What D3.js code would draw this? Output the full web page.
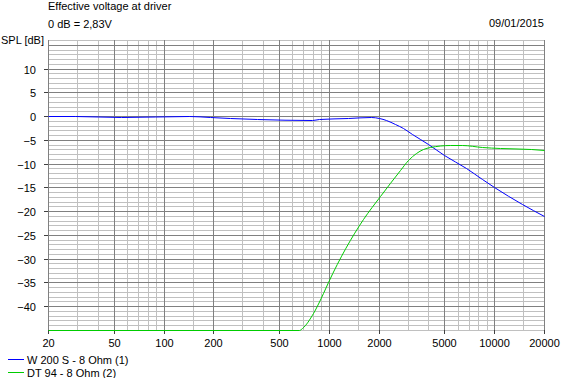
<!DOCTYPE html>
<html>
<head>
<meta charset="utf-8">
<script src="https://cdn.jsdelivr.net/npm/d3@7"></script>
<style>
  body { margin: 0; background: #fff; }
  svg { display: block; font-family: "Liberation Sans", Arial, sans-serif; font-size: 11px; }
</style>
</head>
<body>
<svg id="chart" width="586" height="378"></svg>
<script>
// frequency response, values
const wooferFreq = [20, 29, 55, 143, 190, 251, 365, 785, 877, 1296, 1810, 2000, 2200, 2500, 2800, 3200, 4000, 5000, 6768, 8492, 10000, 14820, 20000];
const wooferDb   = [0, 0, -0.1, 0, -0.1, -0.45, -0.7, -0.9, -0.6, -0.4, -0.15, -0.35, -0.75, -1.7, -2.6, -3.8, -5.8, -8.2, -11.0, -13.3, -14.9, -18.4, -21.1];

const tweeterFreq = [20, 664, 692, 796, 919, 994, 1603, 2024, 2674, 3000, 3374, 3700, 4060, 5365, 6428, 8492, 10766, 16738, 20000];
const tweeterDb   = [-45, -45, -44.6, -41.4, -37.3, -34.8, -21.6, -16.9, -11.3, -9.3, -7.8, -7.0, -6.5, -6.0, -6.0, -6.5, -6.7, -6.9, -7.2];

const seriesNames = ["W 200 S - 8 Ohm (1)", "DT 94 - 8 Ohm (2)"];
const seriesColors = ["#0000ff", "#00cc00"];

const xLabels = [20, 50, 100, 200, 500, 1000, 2000, 5000, 10000, 20000];
const xMinor = [30, 40, 60, 70, 80, 90, 150, 300, 400, 600, 700, 800, 900, 1500, 3000, 4000, 6000, 7000, 8000, 9000, 15000];
const yLabels = [-40, -35, -30, -25, -20, -15, -10, -5, 0, 5, 10];

const svg = d3.select('#chart');

const x = d3.scaleLog().domain([20, 20000]).rangeRound([48, 544]);
const y = d3.scaleLinear().domain([-45, 16]).rangeRound([330, 40]);

// grid
const grid = svg.append('g').attr('shape-rendering', 'crispEdges');
const yMinor = d3.range(-45, 17).filter(v => v % 5 !== 0 || v === -45);
const yMajor = d3.range(-40, 16, 5);

grid.selectAll('.hminor').data(yMinor).join('line')
  .attr('x1', 48).attr('x2', 544)
  .attr('y1', d => y(d) + 0.5).attr('y2', d => y(d) + 0.5)
  .attr('stroke', '#c0c0c0');

grid.selectAll('.vminor').data(xMinor).join('line')
  .attr('x1', d => x(d) + 0.5).attr('x2', d => x(d) + 0.5)
  .attr('y1', 40).attr('y2', 330)
  .attr('stroke', '#c0c0c0');

grid.selectAll('.hmajor').data(yMajor).join('line')
  .attr('x1', 48).attr('x2', 544)
  .attr('y1', d => y(d) + 0.5).attr('y2', d => y(d) + 0.5)
  .attr('stroke', '#808080');

grid.selectAll('.vmajor').data(xLabels).join('line')
  .attr('x1', d => x(d) + 0.5).attr('x2', d => x(d) + 0.5)
  .attr('y1', 40).attr('y2', 330.5)
  .attr('stroke', '#808080');

// axes
const xAxis = d3.axisBottom(x).tickValues(xLabels).tickFormat(d3.format('d')).tickSize(4).tickPadding(5);
const yAxis = d3.axisLeft(y).tickValues(yLabels).tickSize(4).tickPadding(8);

const gx = svg.append('g').attr('transform', 'translate(0,330)').call(xAxis);
const gy = svg.append('g').attr('transform', 'translate(48,0)').call(yAxis);
[gx, gy].forEach(g => {
  g.select('.domain').remove();
  g.selectAll('line').attr('stroke', '#404040').attr('shape-rendering', 'crispEdges');
  g.selectAll('text').attr('fill', '#000')
    .style('font-family', '"Liberation Sans", Arial, sans-serif').style('font-size', '11px');
});
gy.selectAll('text').attr('dy', '0.4em');

// curves
const line = d3.line()
  .x(d => x(d[0]) + 0.5)
  .y(d => y(d[1]) + 0.5)
  .curve(d3.curveMonotoneX);

const series = [
  d3.zip(wooferFreq, wooferDb),
  d3.zip(tweeterFreq, tweeterDb)
];

series.forEach((s, i) => {
  svg.append('path')
    .attr('d', line(s))
    .attr('fill', 'none')
    .attr('stroke', seriesColors[i])
    .attr('stroke-width', 1);
});

// texts
svg.append('text').attr('x', 48).attr('y', 10).text('Effective voltage at driver');
svg.append('text').attr('x', 48).attr('y', 28).text('0 dB = 2,83V');
svg.append('text').attr('x', 1).attr('y', 44).text('SPL [dB]');
svg.append('text').attr('x', 544).attr('y', 27).attr('text-anchor', 'end').text('09/01/2015');

// legend
const legend = svg.append('g');
seriesNames.forEach((name, i) => {
  const ly = 359.5 + i * 13;
  legend.append('line')
    .attr('x1', 8).attr('x2', 24).attr('y1', ly).attr('y2', ly)
    .attr('stroke', seriesColors[i]).attr('shape-rendering', 'crispEdges');
  legend.append('text').attr('x', 27).attr('y', ly + 4).text(name);
});
</script>
</body>
</html>
